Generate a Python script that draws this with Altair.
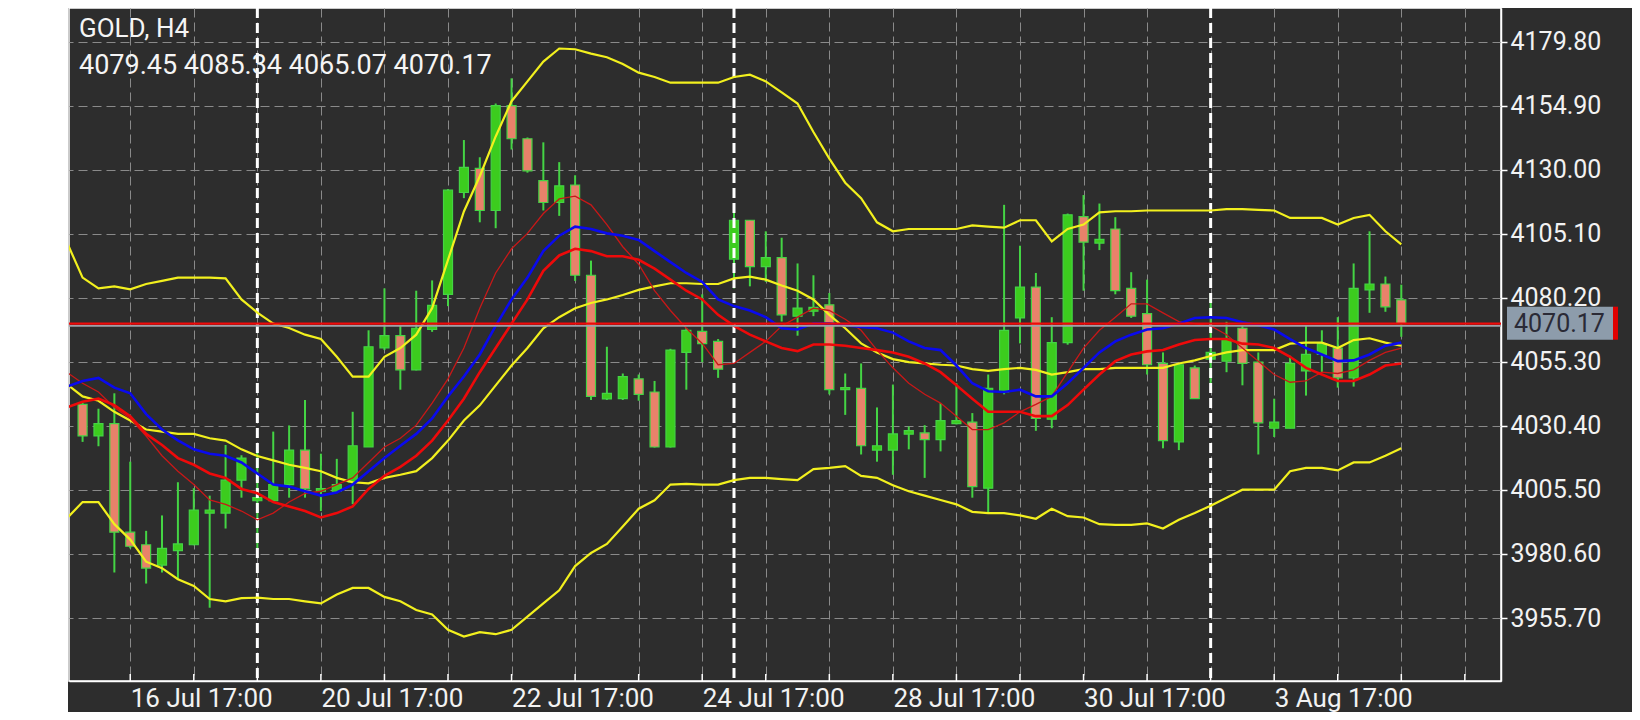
import altair as alt
import pandas as pd

# ---------------- data ----------------
symbol = "GOLD, H4"
last_price = 4070.17

candle_idx = list(range(84))
opens = [4038.8, 4026.5, 4031.3, 3989.1, 3984.2, 3976.3, 3981.9, 3984.2, 3996.5, 3996.5,
         4009.3, 4001.3, 4001.3, 4007.6, 4021.0, 4005.0, 4005.0, 4008.5, 4022.2, 4060.8,
         4065.5, 4052.2, 4067.9, 4081.6, 4121.2, 4130.6, 4114.2, 4155.0, 4142.1, 4125.8,
         4117.3, 4124.1, 4089.0, 4040.9, 4041.0, 4048.7, 4043.6, 4022.2, 4059.0, 4067.2,
         4063.3, 4095.3, 4110.4, 4092.4, 4095.9, 4073.1, 4075.0, 4077.5, 4044.5, 4045.0,
         4021.0, 4021.0, 4027.2, 4027.7, 4025.1, 4031.3, 4031.9, 4006.2, 4043.6, 4072.4,
         4084.4, 4033.0, 4062.8, 4111.8, 4101.5, 4107.0, 4083.9, 4074.1, 4054.7, 4024.2,
         4053.0, 4056.4, 4055.6, 4068.4, 4055.2, 4029.5, 4029.5, 4051.8, 4058.2, 4060.7,
         4049.1, 4083.3, 4085.6, 4079.45]
highs = [4039.5, 4037.1, 4043.1, 4016.5, 3989.6, 3995.6, 4008.5, 4006.2, 4003.3, 4023.0,
         4019.0, 4020.5, 4028.2, 4030.6, 4040.5, 4019.6, 4017.6, 4035.9, 4067.6, 4083.9,
         4069.3, 4083.0, 4087.0, 4122.5, 4141.6, 4134.9, 4155.8, 4165.6, 4142.6, 4140.7,
         4133.0, 4127.9, 4094.7, 4061.2, 4050.8, 4050.4, 4047.9, 4060.4, 4068.5, 4081.6,
         4064.2, 4115.9, 4110.5, 4106.1, 4103.6, 4093.6, 4089.0, 4082.1, 4050.8, 4054.7,
         4037.6, 4046.5, 4030.2, 4030.7, 4039.3, 4047.0, 4035.4, 4050.4, 4116.4, 4100.5,
         4089.9, 4072.7, 4113.0, 4120.2, 4116.9, 4111.6, 4090.2, 4087.3, 4059.0, 4054.5,
         4053.9, 4082.1, 4070.9, 4069.3, 4059.0, 4041.0, 4057.7, 4069.3, 4067.6, 4072.7,
         4093.6, 4106.1, 4088.5, 4085.34]
lows = [4024.2, 4022.5, 3973.4, 3982.8, 3969.1, 3973.4, 3970.8, 3984.0, 3959.7, 3990.5,
        4002.5, 3982.8, 4001.3, 4002.5, 4002.5, 3997.3, 4004.5, 4000.0, 4022.2, 4059.9,
        4044.5, 4052.0, 4067.0, 4077.0, 4119.0, 4109.6, 4107.3, 4137.9, 4128.9, 4114.2,
        4112.1, 4086.8, 4040.5, 4040.5, 4040.5, 4040.2, 4022.0, 4022.0, 4044.5, 4055.2,
        4049.1, 4083.9, 4084.7, 4086.4, 4071.0, 4065.5, 4073.1, 4042.7, 4034.7, 4019.3,
        4016.5, 4011.4, 4021.3, 4010.2, 4020.5, 4031.0, 4002.5, 3996.5, 4042.7, 4062.5,
        4028.5, 4029.5, 4062.0, 4083.0, 4098.8, 4081.6, 4072.4, 4050.4, 4021.7, 4021.0,
        4041.0, 4047.0, 4051.3, 4046.2, 4019.3, 4026.1, 4029.5, 4042.2, 4051.3, 4045.3,
        4045.7, 4074.4, 4074.8, 4065.07]
closes = [4026.5, 4031.3, 3989.1, 3983.6, 3975.1, 3982.8, 3984.5, 3997.7, 3997.7, 4009.3,
          4017.9, 4002.5, 4007.6, 4021.0, 4005.9, 4006.0, 4007.6, 4022.7, 4061.2, 4065.5,
          4052.2, 4068.4, 4077.3, 4122.1, 4131.0, 4114.2, 4155.0, 4142.1, 4129.6, 4117.3,
          4123.8, 4089.0, 4041.9, 4043.1, 4049.6, 4042.7, 4022.2, 4059.9, 4067.6, 4062.4,
          4052.5, 4110.4, 4092.4, 4095.9, 4073.6, 4076.2, 4076.5, 4044.5, 4045.3, 4022.7,
          4022.7, 4027.3, 4028.6, 4025.1, 4032.5, 4032.5, 4006.8, 4045.0, 4067.6, 4084.4,
          4033.3, 4062.8, 4112.5, 4101.9, 4103.0, 4083.0, 4073.1, 4054.2, 4024.7, 4054.2,
          4041.0, 4059.0, 4064.2, 4054.7, 4031.6, 4031.9, 4054.7, 4058.2, 4062.4, 4049.1,
          4083.9, 4085.6, 4076.7, 4070.17]

line_idx = list(range(-1, 84))
bb_upper = [4102.0, 4088.1, 4083.9, 4084.7, 4083.5, 4085.6, 4086.8, 4088.1, 4088.1, 4088.1,
            4087.8, 4079.6, 4074.5, 4070.2, 4068.5, 4065.9, 4064.2, 4057.3, 4049.6, 4049.6,
            4057.3, 4060.7, 4065.9, 4076.2, 4095.0, 4113.8, 4127.5, 4143.0, 4156.7, 4164.4,
            4172.1, 4177.2, 4176.9, 4175.2, 4173.8, 4171.2, 4167.8, 4166.1, 4163.9, 4163.9,
            4163.9, 4163.9, 4166.1, 4167.0, 4164.4, 4160.1, 4155.8, 4144.7, 4134.4, 4125.0,
            4119.0, 4109.6, 4106.1, 4107.0, 4107.0, 4107.0, 4107.0, 4108.4, 4107.9, 4107.5,
            4110.4, 4110.4, 4102.2, 4107.0, 4108.7, 4113.5, 4113.9, 4113.9, 4114.2, 4114.2,
            4114.2, 4114.2, 4114.2, 4114.7, 4114.7, 4114.4, 4114.2, 4111.3, 4111.3, 4111.3,
            4108.7, 4111.3, 4112.5, 4106.1, 4101.0]
bb_middle = [4046.7, 4041.9, 4040.2, 4035.9, 4032.5, 4029.0, 4028.2, 4027.3, 4027.3, 4025.6,
             4024.7, 4021.3, 4018.7, 4017.0, 4015.3, 4014.1, 4012.8, 4010.2, 4008.5, 4008.1,
             4010.2, 4011.4, 4012.8, 4017.9, 4024.7, 4032.5, 4038.4, 4046.2, 4053.9, 4060.7,
             4068.4, 4072.7, 4076.2, 4078.2, 4079.6, 4081.3, 4083.3, 4084.7, 4085.9, 4085.9,
             4085.6, 4085.6, 4087.8, 4088.5, 4087.3, 4085.0, 4083.0, 4079.6, 4073.6, 4068.4,
             4062.5, 4059.0, 4056.4, 4055.2, 4054.7, 4054.2, 4053.9, 4052.5, 4051.8, 4052.5,
             4053.0, 4052.2, 4050.4, 4051.3, 4052.5, 4052.5, 4053.0, 4053.0, 4053.0, 4053.0,
             4054.7, 4055.9, 4057.6, 4059.0, 4059.9, 4059.9, 4059.9, 4062.4, 4062.8, 4062.8,
             4060.7, 4063.8, 4064.5, 4062.8, 4061.6]
bb_lower = [3994.4, 4000.8, 4000.8, 3992.2, 3986.2, 3977.6, 3975.1, 3970.8, 3968.2, 3963.1,
            3962.2, 3963.4, 3963.6, 3963.1, 3963.1, 3962.2, 3961.4, 3964.8, 3967.4, 3967.4,
            3963.9, 3962.2, 3958.8, 3957.1, 3951.1, 3948.5, 3950.2, 3949.4, 3951.1, 3956.2,
            3961.4, 3966.5, 3975.9, 3981.0, 3984.5, 3991.3, 3998.2, 4001.5, 4007.6, 4007.9,
            4007.6, 4007.6, 4009.3, 4010.2, 4010.2, 4009.7, 4009.3, 4013.6, 4014.1, 4014.8,
            4011.0, 4010.2, 4007.3, 4005.0, 4003.3, 4001.6, 3999.9, 3997.0, 3996.5, 3996.5,
            3995.6, 3994.3, 3998.2, 3995.3, 3994.8, 3992.2, 3991.9, 3991.9, 3992.5, 3990.5,
            3993.9, 3996.5, 3999.4, 4002.5, 4005.6, 4005.6, 4005.6, 4012.8, 4014.1, 4014.1,
            4013.1, 4016.2, 4016.2, 4018.8, 4021.7]
ma_blue = [4045.7, 4047.9, 4049.1, 4045.3, 4043.1, 4035.0, 4029.0, 4024.8, 4021.3, 4019.6,
           4018.8, 4016.2, 4011.9, 4007.6, 4006.8, 4005.0, 4003.3, 4004.5, 4007.6, 4012.8,
           4017.9, 4022.7, 4027.3, 4033.3, 4041.9, 4049.6, 4058.2, 4069.3, 4079.6, 4088.1,
           4098.4, 4104.4, 4107.9, 4107.0, 4105.3, 4104.4, 4102.7, 4098.4, 4094.1, 4089.9,
           4086.4, 4079.6, 4077.0, 4075.3, 4072.7, 4068.4, 4067.9, 4070.2, 4070.2, 4069.6,
           4068.9, 4068.4, 4066.7, 4063.3, 4060.7, 4059.9, 4053.9, 4047.0, 4043.9, 4043.6,
           4044.5, 4041.9, 4041.9, 4047.0, 4053.0, 4059.0, 4063.3, 4065.9, 4067.9, 4068.4,
           4070.2, 4072.4, 4072.7, 4072.4, 4070.7, 4069.6, 4067.9, 4064.2, 4060.7, 4058.2,
           4055.6, 4055.9, 4058.2, 4061.6, 4062.8]
ma_red = [4037.6, 4039.8, 4041.0, 4038.5, 4034.2, 4027.3, 4023.0, 4017.9, 4015.3, 4011.9,
          4010.2, 4005.9, 4004.2, 4000.8, 3999.1, 3997.3, 3994.8, 3996.5, 3999.1, 4005.9,
          4011.0, 4014.5, 4018.8, 4024.7, 4032.5, 4041.0, 4051.3, 4060.7, 4070.2, 4079.6,
          4090.7, 4096.7, 4099.3, 4098.4, 4096.4, 4096.4, 4095.0, 4091.6, 4087.3, 4083.0,
          4079.6, 4073.6, 4069.3, 4065.9, 4063.3, 4060.7, 4059.5, 4062.1, 4062.1, 4061.6,
          4060.7, 4059.9, 4059.0, 4057.3, 4054.7, 4051.3, 4046.2, 4041.0, 4035.9, 4035.9,
          4035.9, 4034.2, 4034.2, 4038.5, 4044.5, 4050.4, 4055.6, 4058.2, 4059.4, 4059.9,
          4062.1, 4063.8, 4064.2, 4064.2, 4062.4, 4062.1, 4060.7, 4057.3, 4053.0, 4050.4,
          4047.9, 4047.9, 4050.4, 4053.9, 4054.7]
ma_red_thin = [4051.3, 4047.0, 4043.6, 4037.6, 4033.3, 4026.5, 4018.8, 4012.8, 4007.6, 4001.6,
               3999.9, 3997.3, 3993.9, 3996.5, 4000.8, 4004.2, 4005.0, 4007.6, 4010.2, 4016.2,
               4022.2, 4025.6, 4030.7, 4039.3, 4048.7, 4060.7, 4076.2, 4089.9, 4099.3, 4105.3,
               4113.0, 4118.7, 4119.8, 4116.4, 4108.7, 4100.1, 4093.3, 4083.0, 4075.3, 4068.4,
               4062.5, 4054.2, 4054.7, 4059.0, 4063.3, 4069.3, 4072.7, 4076.2, 4075.3, 4071.9,
               4067.6, 4059.9, 4053.0, 4047.0, 4042.7, 4039.3, 4034.2, 4029.0, 4029.0, 4031.6,
               4035.9, 4038.8, 4041.9, 4051.3, 4060.7, 4067.6, 4072.7, 4077.9, 4077.9, 4074.4,
               4071.0, 4070.2, 4069.3, 4065.9, 4060.7, 4055.6, 4050.4, 4047.4, 4047.9, 4051.3,
               4050.8, 4052.2, 4055.9, 4059.0, 4060.7]

y_ticks = [3955.70, 3980.60, 4005.50, 4030.40, 4055.30, 4080.20, 4105.10, 4130.00, 4154.90, 4179.80]
x_grid = list(range(3, 88, 4))
x_label_idx = [3, 15, 27, 39, 51, 63, 75]
x_labels = ["16 Jul 17:00", "20 Jul 17:00", "22 Jul 17:00", "24 Jul 17:00",
            "28 Jul 17:00", "30 Jul 17:00", "3 Aug 17:00"]
week_separators = [11, 41, 71]

# ---------------- styling ----------------
BG = "#2d2d2d"
GRID = "#8a8a8a"
BULL = "#3ccc1e"
WICK = "#44d444"
BEAR = "#e8826a"
YELLOW = "#f2f01e"
BLUE = "#0a0aee"
RED = "#ee0a0a"
RED_THIN = "#c81818"
FONT = "Roboto"

W, H = 1432, 673

candles = pd.DataFrame({"idx": candle_idx, "open": opens, "high": highs,
                        "low": lows, "close": closes})
grid_df = pd.DataFrame({"idx": x_grid})
sep_df = pd.DataFrame({"idx": week_separators})
one = pd.DataFrame({"k": [0]})

xs = alt.Scale(domain=[-0.54, 88.96], nice=False, zero=False)
ys = alt.Scale(domain=[3931.2, 4192.95], nice=False, zero=False)

label_expr = " : ".join(f"datum.value == {i} ? '{t}'" for i, t in zip(x_label_idx, x_labels)) + " : ''"

x_axis = alt.Axis(values=x_grid, grid=True, gridColor=GRID, gridDash=[9, 5], gridWidth=1,
                  ticks=False, domain=True, domainColor="#ffffff", domainWidth=1.5,
                  labelExpr=label_expr, labelAlign="left", labelBaseline="alphabetic",
                  labelPadding=25, labelFont=FONT, labelFontSize=26, labelColor="#f2f2f2",
                  labelFlush=False, labelOverlap=False, labelBound=False, title=None)
y_axis = alt.Axis(orient="right", values=y_ticks, format=".2f", grid=True, gridColor=GRID,
                  gridDash=[9, 5], gridWidth=1, tickColor="#ffffff", tickSize=6, tickWidth=1.5,
                  domainColor="#ffffff", domainWidth=1.5, labelPadding=3, labelFont=FONT,
                  labelFontSize=25, labelColor="#f2f2f2", labelFlush=False,
                  labelOverlap=False, labelBound=False, title=None)


def X(field="idx"):
    return alt.X(f"{field}:Q", scale=xs, axis=x_axis)


def Y(field):
    return alt.Y(f"{field}:Q", scale=ys, axis=y_axis)


left_strip = alt.Chart(one).mark_rect(fill="#ffffff", clip=False).encode(
    x=alt.value(-61), x2=alt.value(-1), y=alt.value(0), y2=alt.value(H + 31))

separators = alt.Chart(sep_df).mark_rule(color="#ffffff", strokeWidth=3, strokeDash=[10, 5]).encode(
    x=X())

bottom_ticks = alt.Chart(grid_df).mark_rule(color="#ffffff", strokeWidth=1.5).encode(
    x=X(), y=alt.value(H - 7), y2=alt.value(H))

wicks = alt.Chart(candles).mark_rule(color=WICK, strokeWidth=2).encode(
    x=X(), y=Y("low"), y2=alt.Y2("high"))

bodies = alt.Chart(candles).mark_bar(size=9, stroke=WICK, strokeWidth=1.2).encode(
    x=X(), y=Y("open"), y2=alt.Y2("close"),
    fill=alt.condition("datum.close >= datum.open", alt.value(BULL), alt.value(BEAR)))


def line_layer(values, color, width):
    df = pd.DataFrame({"idx": line_idx, "value": values})
    return alt.Chart(df).mark_line(color=color, strokeWidth=width, clip=True).encode(
        x=X(), y=Y("value"))


lines = [
    line_layer(bb_upper, YELLOW, 2.2),
    line_layer(bb_middle, YELLOW, 2.2),
    line_layer(bb_lower, YELLOW, 2.2),
    line_layer(ma_red_thin, RED_THIN, 1.3),
    line_layer(ma_red, RED, 2.6),
    line_layer(ma_blue, BLUE, 2.6),
]

price_gray = alt.Chart(one).mark_rule(color="#a0a0a8", strokeWidth=1.6, yOffset=2.2).encode(
    y=alt.YDatum(last_price, scale=ys, axis=y_axis))
price_red = alt.Chart(one).mark_rule(color=RED, strokeWidth=2.2).encode(
    y=alt.YDatum(last_price, scale=ys, axis=y_axis))

price_box = alt.Chart(one).mark_rect(fill="#8d9cab", clip=False, yOffset=-17, y2Offset=16).encode(
    x=alt.value(W + 6), x2=alt.value(W + 112),
    y=alt.YDatum(last_price, scale=ys, axis=y_axis), y2=alt.Y2Datum(last_price))
price_bar = alt.Chart(one).mark_rect(fill="#e00000", clip=False, yOffset=-17, y2Offset=16).encode(
    x=alt.value(W + 112), x2=alt.value(W + 117),
    y=alt.YDatum(last_price, scale=ys, axis=y_axis), y2=alt.Y2Datum(last_price))
price_text = alt.Chart(one).mark_text(align="left", baseline="middle", font=FONT, fontSize=25,
                                      color="#2a2a36", clip=False).encode(
    x=alt.value(W + 13), y=alt.YDatum(last_price, scale=ys, axis=y_axis),
    text=alt.value(f"{last_price:.2f}"))

title1 = alt.Chart(one).mark_text(align="left", baseline="alphabetic", font=FONT, fontSize=26,
                                  color="#f5f5f5").encode(
    x=alt.value(10), y=alt.value(29), text=alt.value(symbol))
ohlc_text = f"{opens[-1]:.2f} {highs[-1]:.2f} {lows[-1]:.2f} {closes[-1]:.2f}"
title2 = alt.Chart(one).mark_text(align="left", baseline="alphabetic", font=FONT, fontSize=27,
                                  color="#f5f5f5").encode(
    x=alt.value(10), y=alt.value(66), text=alt.value(ohlc_text))

chart = alt.layer(
    left_strip, bottom_ticks, wicks, bodies, separators, *lines,
    price_gray, price_red, price_box, price_bar, price_text, title1, title2
).properties(
    width=W, height=H,
    autosize=alt.AutoSizeParams(type="none"),
    padding={"left": 61, "top": 0, "right": 131, "bottom": 31},
).configure(
    background=BG,
).configure_view(
    stroke="#ffffff", strokeWidth=1.5
)

chart.save("out.html", embed_options={"renderer": "svg", "actions": False})
